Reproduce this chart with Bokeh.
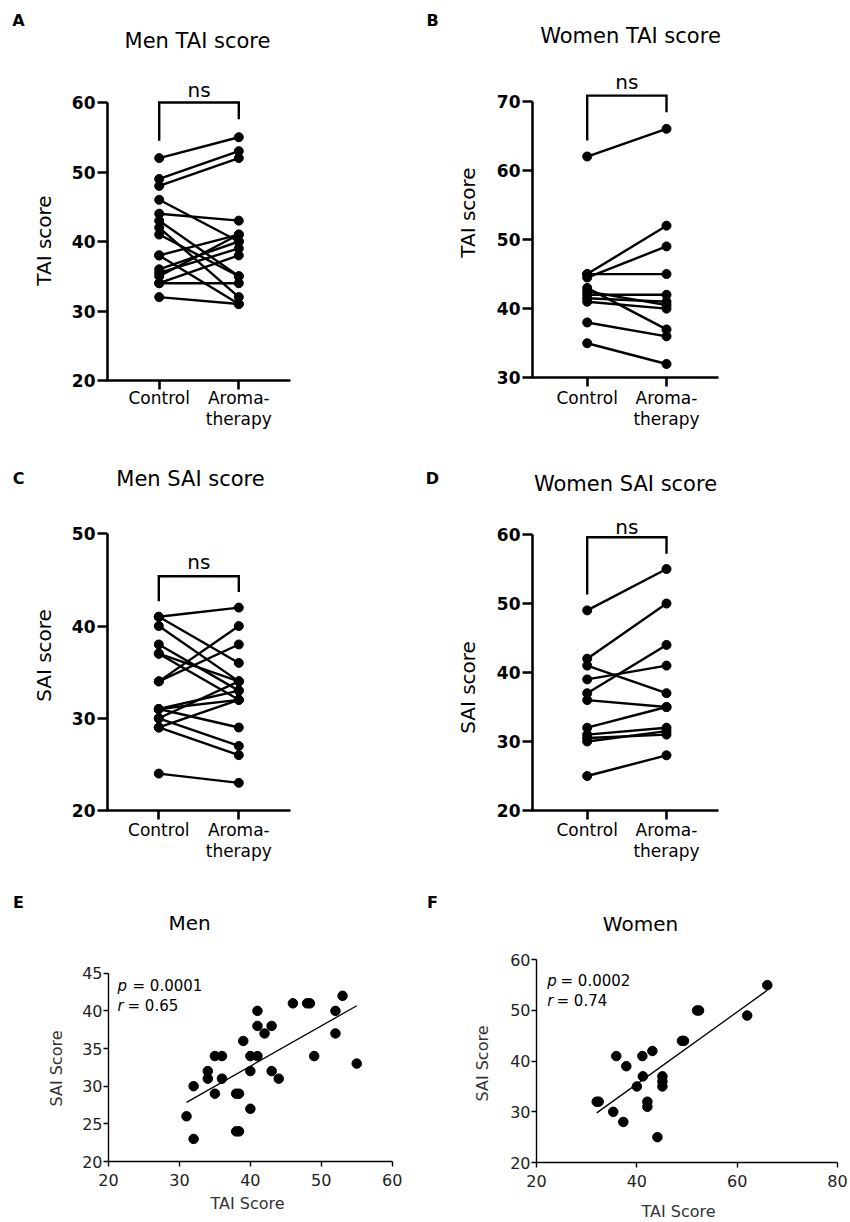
import numpy as np
from bokeh.plotting import figure
from bokeh.models import Range1d, Label, FixedTicker, ColumnDataSource
from bokeh.layouts import column, row
from bokeh.embed import file_html
from bokeh.resources import INLINE

FONT = "DejaVu Sans"

# ---------------- data ----------------
groups = ["Control", "Aroma-", "therapy"]

men_tai_control = [52, 49, 48, 46, 44, 43, 42, 41, 38, 38, 36, 35.5, 35, 34, 34, 32]
men_tai_aroma = [55, 53, 52, 40, 43, 35, 32, 35, 41, 31, 40, 39, 41, 34, 38, 31]

women_tai_control = [62, 45, 44.5, 45, 43, 42, 41.5, 41, 42.5, 38, 35]
women_tai_aroma = [66, 52, 49, 45, 37, 42, 41, 40, 40.5, 36, 32]

men_sai_control = [41, 41, 40, 38, 37, 37, 34, 34, 31, 31, 31, 30, 30, 29, 29, 24]
men_sai_aroma = [42, 36, 34, 33, 32, 34, 40, 38, 33, 32, 29, 34, 27, 32, 26, 23]

women_sai_control = [49, 42, 41, 39, 37, 36, 32, 31, 30.5, 30, 25]
women_sai_aroma = [55, 50, 37, 41, 44, 35, 35, 32, 31, 31.5, 28]

men_corr_tai = [31, 32, 32, 34, 34, 35, 35, 36, 36, 38, 38.4, 38, 38.4, 39, 40, 40,
                40, 41, 41, 41, 42, 43, 43, 44, 46, 48, 48.4, 49, 52, 52, 53, 55]
men_corr_sai = [26, 23, 30, 32, 31, 34, 29, 34, 31, 29, 29, 24, 24, 36, 34, 32,
                27, 40, 38, 34, 37, 38, 32, 31, 41, 41, 41, 34, 40, 37, 42, 33]

women_corr_tai = [32, 32.4, 35.3, 35.9, 37.3, 37.9, 40, 41.1, 41.2, 42.1, 42.1,
                  43.1, 44.1, 45.1, 45.1, 45.1, 49, 49.4, 52, 52.4, 62, 66]
women_corr_sai = [32, 32, 30, 41, 28, 39, 35, 41, 37, 32, 31,
                  42, 25, 37, 36, 35, 44, 44, 50, 50, 49, 55]

men_stats = ("0.0001", "0.65")
women_stats = ("0.0002", "0.74")


# ---------------- helpers ----------------
class Frame:
    """Linear map from page pixels to the data coordinates of one figure."""
    def __init__(self, ox, oy, w, h, ax_px, ax_val, sx, ay_px, ay_val, sy):
        self.ox, self.oy, self.w, self.h = ox, oy, w, h
        self.ax_px, self.ax_val, self.sx = ax_px, ax_val, sx
        self.ay_px, self.ay_val, self.sy = ay_px, ay_val, sy

    def dx(self, px):
        return self.ax_val + (px - self.ax_px) / self.sx

    def dy(self, py):
        return self.ay_val + (self.ay_px - py) / self.sy

    def figure(self):
        p = figure(width=self.w, height=self.h,
                   x_range=Range1d(self.dx(self.ox), self.dx(self.ox + self.w)),
                   y_range=Range1d(self.dy(self.oy + self.h), self.dy(self.oy)),
                   output_backend="svg", toolbar_location=None, title=None,
                   min_border=0, min_border_left=0, min_border_right=0,
                   min_border_top=0, min_border_bottom=0)
        p.grid.visible = False
        p.outline_line_color = None
        p.background_fill_color = "white"
        p.border_fill_color = "white"
        return p


def add_text(p, fr, px, py, text, size, bold=False, italic=False, angle=0.0,
             align="center", baseline="middle", color="black"):
    style = "bold" if bold else ("italic" if italic else "normal")
    p.add_layout(Label(x=fr.dx(px), y=fr.dy(py), text=text, text_font=FONT,
                       text_font_size=f"{size}px", text_font_style=style,
                       text_align=align, text_baseline=baseline, angle=angle,
                       text_color=color))


def style_axes(p, width, tick_out, size, bold, color):
    for ax in (p.xaxis[0], p.yaxis[0]):
        ax.axis_line_width = width
        ax.axis_line_color = "black"
        ax.major_tick_line_width = width
        ax.major_tick_line_color = "black"
        ax.major_tick_in = 0
        ax.major_tick_out = tick_out
        ax.minor_tick_line_color = None
        ax.major_label_text_font = FONT
        ax.major_label_text_font_size = f"{size}px"
        ax.major_label_text_color = color
        if bold:
            ax.major_label_text_font_style = "bold"


def paired_panel(ox, oy, w, h, ax_x, ax_y, top_y, y_lo, y_hi, ytick_step,
                 ctrl_x, aroma_x, x_end_page, ctrl, aroma, bracket, ns_y, cat_dy,
                 letter, letter_xy, title, title_xy, ylabel, ylabel_xy):
    sy = (ax_y - top_y) / (y_hi - y_lo)
    fr = Frame(ox, oy, w, h, ctrl_x, 1.0, aroma_x - ctrl_x, ax_y, y_lo, sy)
    p = fr.figure()

    n = len(ctrl)
    src = ColumnDataSource(dict(x0=[1] * n, x1=[2] * n, c=ctrl, a=aroma))
    p.segment(x0="x0", y0="c", x1="x1", y1="a", source=src, line_color="black",
              line_width=2.4)
    p.scatter(x="x0", y="c", source=src, size=9, color="black")
    p.scatter(x="x1", y="a", source=src, size=9, color="black")

    top, l_end, r_end = bracket
    p.line(x=[1, 1, 2, 2], y=[l_end, top, top, r_end], line_color="black",
           line_width=2.4, line_join="miter")
    add_text(p, fr, (ctrl_x + aroma_x) / 2, ns_y, "ns", 20)

    # library axes, pinned where the original draws them
    p.xaxis.fixed_location = y_lo
    p.yaxis.fixed_location = fr.dx(ax_x)
    p.xaxis.bounds = (fr.dx(ax_x - 1.3), fr.dx(x_end_page))
    p.yaxis.bounds = (y_lo, y_hi)
    p.xaxis.ticker = FixedTicker(ticks=[1, 2])
    p.xaxis.major_label_overrides = {1: "", 2: ""}
    p.yaxis.ticker = FixedTicker(ticks=list(np.arange(y_lo, y_hi + 0.1, ytick_step)))
    style_axes(p, 2.6, 10, 17, True, "black")
    p.xaxis.major_tick_out = 9
    p.yaxis.major_label_standoff = 2

    add_text(p, fr, ctrl_x, ax_y + cat_dy, groups[0], 17)
    add_text(p, fr, aroma_x, ax_y + cat_dy, groups[1], 17)
    add_text(p, fr, aroma_x, ax_y + cat_dy + 21, groups[2], 17)

    add_text(p, fr, letter_xy[0], letter_xy[1], letter, 16, bold=True)
    add_text(p, fr, title_xy[0], title_xy[1], title, 21)
    add_text(p, fr, ylabel_xy[0], ylabel_xy[1], ylabel, 20, angle=np.pi / 2)
    return p


def corr_panel(ox, oy, w, h, ax_x, ax_y, top_y, x_end_page, x_lo, x_hi, x_step,
               y_lo, y_hi, y_step, tai, sai, stats, stats_xy, letter, letter_xy,
               title, title_xy, xlabel_xy, ylabel_xy):
    sx = (x_end_page - ax_x) / (x_hi - x_lo)
    sy = (ax_y - top_y) / (y_hi - y_lo)
    fr = Frame(ox, oy, w, h, ax_x, x_lo, sx, ax_y, y_lo, sy)
    p = fr.figure()
    p.scatter(x=tai, y=sai, size=9.5, color="black")
    slope, icpt = np.polyfit(tai, sai, 1)
    xs = np.array([min(tai), max(tai)])
    p.line(x=xs, y=slope * xs + icpt, line_color="black", line_width=1.3)

    p.xaxis.fixed_location = y_lo
    p.yaxis.fixed_location = x_lo
    p.xaxis.bounds = (x_lo, x_hi)
    p.yaxis.bounds = (y_lo, y_hi)
    p.xaxis.ticker = FixedTicker(ticks=list(np.arange(x_lo, x_hi + 0.1, x_step)))
    p.yaxis.ticker = FixedTicker(ticks=list(np.arange(y_lo, y_hi + 0.1, y_step)))
    style_axes(p, 1.4, 5, 16, False, "#222222")
    p.xaxis.major_label_standoff = 7
    p.yaxis.major_label_standoff = 1

    (px, py_p, py_r, eq_p, eq_r) = stats_xy
    add_text(p, fr, px, py_p, "p", 15, italic=True, align="left")
    add_text(p, fr, eq_p, py_p, "= " + stats[0], 15, align="left")
    add_text(p, fr, px, py_r, "r", 15, italic=True, align="left")
    add_text(p, fr, eq_r, py_r, "= " + stats[1], 15, align="left")

    add_text(p, fr, letter_xy[0], letter_xy[1], letter, 16, bold=True)
    add_text(p, fr, title_xy[0], title_xy[1], title, 20)
    add_text(p, fr, xlabel_xy[0], xlabel_xy[1], "TAI Score", 16, color="#333333")
    add_text(p, fr, ylabel_xy[0], ylabel_xy[1], "SAI Score", 16, color="#333333",
             angle=np.pi / 2)
    return p


W = 425
H1, H2, H3 = 455, 425, 342
pA = paired_panel(0, 0, W, H1, 107, 380, 102, 20, 60, 10, 158.7, 238.3, 290,
                  men_tai_control, men_tai_aroma, (60, 54.5, 57.6), 89, 17,
                  "A", (18, 20), "Men TAI score", (197, 40), "TAI score", (43, 240))
pB = paired_panel(425, 0, W, H1, 532, 377.3, 100.7, 30, 70, 10, 586.7, 666, 718,
                  women_tai_control, women_tai_aroma, (70.8, 64.3, 68.4), 81, 20,
                  "B", (432, 20), "Women TAI score", (630, 35), "TAI score", (467, 212))
pC = paired_panel(0, 455, W, H2, 107, 810, 533.3, 20, 50, 10, 158.3, 238.3, 290,
                  men_sai_control, men_sai_aroma, (45.4, 42.7, 43.7), 561, 19,
                  "C", (18, 478), "Men SAI score", (190, 478), "SAI score", (43, 655))
pD = paired_panel(425, 455, W, H2, 532, 810, 534, 20, 60, 10, 586.7, 666, 718,
                  women_sai_control, women_sai_aroma, (59.6, 51.3, 57.2), 526, 19,
                  "D", (432, 478), "Women SAI score", (625, 483), "SAI score", (467, 687))
pE = corr_panel(0, 880, W, H3, 108, 1161, 972.7, 391.7, 20, 60, 10, 20, 45, 5,
                men_corr_tai, men_corr_sai, men_stats, (117, 985, 1005, 132, 127),
                "E", (18, 902), "Men", (189, 922), (247, 1203), (56, 1068))
pF = corr_panel(425, 880, W, H3, 536, 1162, 959.3, 837, 20, 80, 20, 20, 60, 10,
                women_corr_tai, women_corr_sai, women_stats, (546.7, 980, 1000, 560, 556),
                "F", (432, 902), "Women", (640, 923), (678, 1211), (482, 1063))

layout = column(row(pA, pB), row(pC, pD), row(pE, pF))
open("out.html", "w").write(file_html(layout, INLINE))
